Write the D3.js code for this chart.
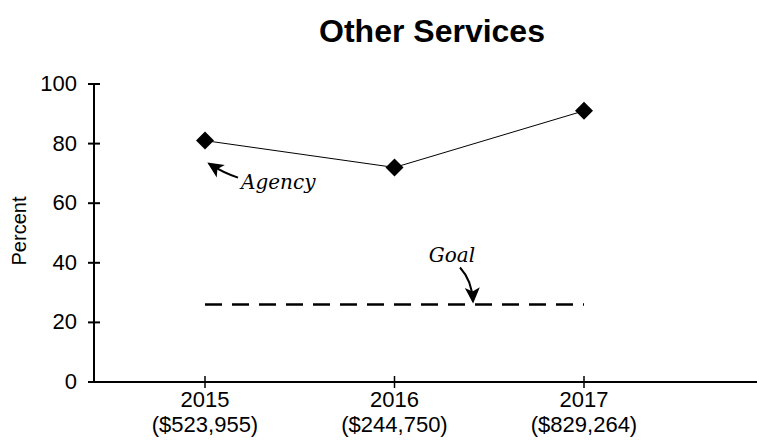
<!DOCTYPE html>
<html>
<head>
<meta charset="utf-8">
<script src="https://cdn.jsdelivr.net/npm/d3@7"></script>
<style>
body { margin: 0; background: #fff; }
svg { font-family: Arial, "Liberation Sans", sans-serif; }
</style>
</head>
<body>
<svg id="viz" width="757" height="447"></svg>
<script>
// data
var years = ["2015", "2016", "2017"];
var amounts = ["($523,955)", "($244,750)", "($829,264)"];
var agency = [81, 72, 91];
var goal = [26, 26, 26];
var yTicks = [0, 20, 40, 60, 80, 100];

var svg = d3.select("#viz");

var x = d3.scalePoint().domain(years).range([205, 584]);
var y = d3.scaleLinear().domain([0, 100]).range([382, 84]);

// title
svg.append("text")
    .attr("x", 432).attr("y", 42)
    .attr("text-anchor", "middle")
    .style("font-size", "32px").style("font-weight", "bold")
    .text("Other Services");

// y axis
svg.append("line").attr("x1", 94).attr("x2", 94).attr("y1", y(100)).attr("y2", y(0))
    .attr("stroke", "#000").attr("stroke-width", 2);
svg.selectAll(".ytick").data(yTicks).enter().append("line")
    .attr("x1", 88).attr("x2", 100)
    .attr("y1", d => y(d)).attr("y2", d => y(d))
    .attr("stroke", "#000").attr("stroke-width", 2);
svg.selectAll(".ylab").data(yTicks).enter().append("text")
    .attr("x", 77).attr("y", d => y(d) + 7)
    .attr("text-anchor", "end")
    .style("font-size", "22px")
    .text(d => d);
svg.append("text")
    .attr("transform", "translate(26,231) rotate(-90)")
    .attr("text-anchor", "middle")
    .style("font-size", "20px")
    .text("Percent");

// x axis
svg.append("line").attr("x1", 94).attr("x2", 757).attr("y1", y(0)).attr("y2", y(0))
    .attr("stroke", "#000").attr("stroke-width", 2);
svg.selectAll(".xtick").data(years).enter().append("line")
    .attr("x1", d => x(d)).attr("x2", d => x(d))
    .attr("y1", y(0) - 6).attr("y2", y(0) + 6)
    .attr("stroke", "#000").attr("stroke-width", 1.5);
svg.selectAll(".xlab").data(years).enter().append("text")
    .attr("x", d => x(d)).attr("y", 407)
    .attr("text-anchor", "middle")
    .style("font-size", "22px")
    .text(d => d);
svg.selectAll(".xamt").data(amounts).enter().append("text")
    .attr("x", (d, i) => x(years[i])).attr("y", 432)
    .attr("text-anchor", "middle")
    .style("font-size", "22px")
    .text(d => d);

// goal line
svg.append("path")
    .datum(goal)
    .attr("d", d3.line().x((d, i) => x(years[i])).y(d => y(d)))
    .attr("fill", "none").attr("stroke", "#000")
    .attr("stroke-width", 2.5).attr("stroke-dasharray", "17,10");

// agency line
svg.append("path")
    .datum(agency)
    .attr("d", d3.line().x((d, i) => x(years[i])).y(d => y(d)))
    .attr("fill", "none").attr("stroke", "#000").attr("stroke-width", 1);

svg.selectAll(".pt").data(agency).enter().append("path")
    .attr("transform", (d, i) => "translate(" + x(years[i]) + "," + y(d) + ")")
    .attr("d", "M0,-9 L9,0 L0,9 L-9,0 Z")
    .attr("fill", "#000");

// curved arrow with a filled head at the end
function arrow(x0, y0, cx, cy, x1, y1) {
    svg.append("path")
        .attr("d", "M" + x0 + "," + y0 + " Q" + cx + "," + cy + " " + x1 + "," + y1)
        .attr("fill", "none").attr("stroke", "#000").attr("stroke-width", 2);
    var ang = Math.atan2(y1 - cy, x1 - cx) * 180 / Math.PI;
    svg.append("path")
        .attr("transform", "translate(" + x1 + "," + y1 + ") rotate(" + ang + ")")
        .attr("d", "M2,0 L-14,-7.5 L-10,0 L-14,7.5 Z")
        .attr("fill", "#000");
}

// annotations
var ax = x("2015"), ay = y(agency[0]);
arrow(ax + 33, ay + 37, ax + 18, ay + 32, ax + 4, ay + 23);
svg.append("text")
    .attr("x", ax + 36).attr("y", ay + 48)
    .style("font-family", "'DejaVu Serif', 'Liberation Serif', serif")
    .style("font-style", "italic").style("font-size", "20px")
    .text("Agency");

var gy = y(goal[0]);
arrow(460, gy - 37, 472, gy - 24, 473, gy - 3);
svg.append("text")
    .attr("x", 452).attr("y", gy - 43)
    .attr("text-anchor", "middle")
    .style("font-family", "'DejaVu Serif', 'Liberation Serif', serif")
    .style("font-style", "italic").style("font-size", "20px")
    .text("Goal");
</script>
</body>
</html>
